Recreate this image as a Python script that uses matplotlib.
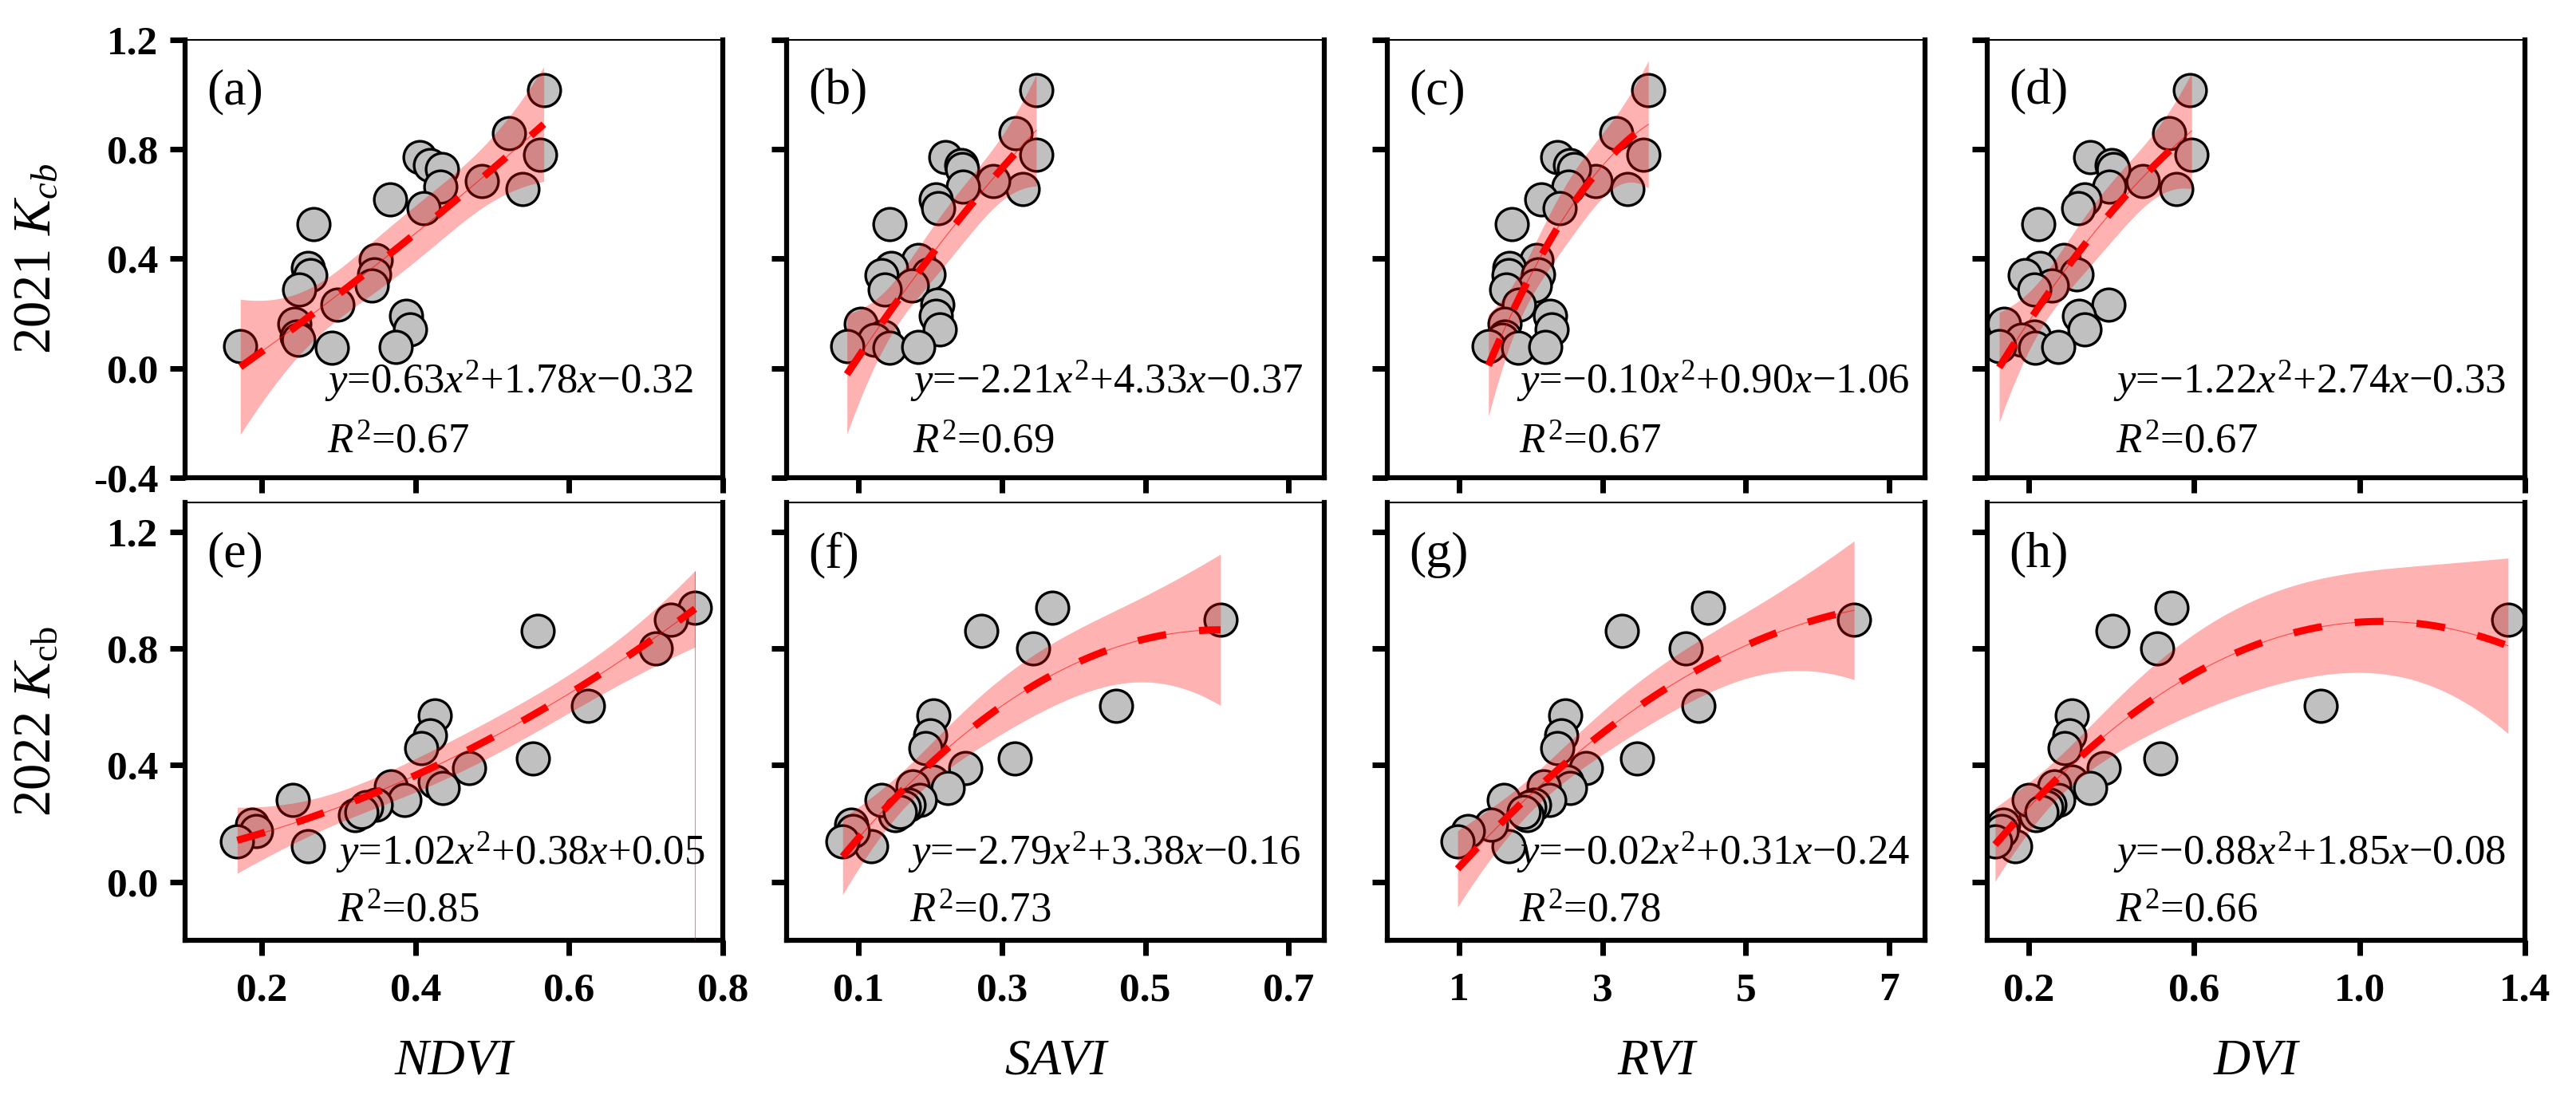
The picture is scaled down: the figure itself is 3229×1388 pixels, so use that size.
import numpy as np
import matplotlib.pyplot as plt

plt.rcParams['font.family'] = ['Liberation Serif', 'DejaVu Serif']
plt.rcParams['mathtext.fontset'] = 'custom'
plt.rcParams['mathtext.rm'] = 'Liberation Serif'
plt.rcParams['mathtext.it'] = 'Liberation Serif:italic'
plt.rcParams['mathtext.bf'] = 'Liberation Serif:bold'
plt.rcParams['axes.unicode_minus'] = False

# ---- 2021 season (same sample order in every list) ----
kcb_2021 = [1.017, 0.858, 0.780, 0.656, 0.685, 0.771, 0.741, 0.728, 0.663, 0.617,
            0.585, 0.526, 0.396, 0.367, 0.341, 0.344, 0.302, 0.289, 0.233, 0.191,
            0.142, 0.162, 0.117, 0.103, 0.081, 0.075, 0.077]
ndvi_2021 = [0.567, 0.522, 0.562, 0.539, 0.486, 0.405, 0.419, 0.434, 0.432, 0.367,
             0.411, 0.267, 0.348, 0.260, 0.263, 0.346, 0.343, 0.249, 0.298, 0.388,
             0.393, 0.242, 0.245, 0.248, 0.172, 0.291, 0.374]
savi_2021 = [0.348, 0.319, 0.348, 0.329, 0.288, 0.221, 0.243, 0.245, 0.246, 0.208,
             0.211, 0.143, 0.183, 0.146, 0.132, 0.198, 0.175, 0.137, 0.210, 0.208,
             0.214, 0.103, 0.135, 0.122, 0.084, 0.143, 0.183]
rvi_2021 = [3.64, 3.19, 3.57, 3.35, 2.90, 2.375, 2.55, 2.60, 2.52, 2.15,
            2.40, 1.74, 2.08, 1.70, 1.69, 2.10, 2.06, 1.66, 1.84, 2.27,
            2.29, 1.64, 1.63, 1.60, 1.41, 1.82, 2.20]
dvi_2021 = [0.590, 0.539, 0.594, 0.558, 0.477, 0.348, 0.400, 0.405, 0.395, 0.336,
            0.319, 0.223, 0.285, 0.227, 0.191, 0.316, 0.257, 0.213, 0.393, 0.321,
            0.336, 0.141, 0.213, 0.183, 0.129, 0.215, 0.272]

# ---- 2022 season ----
kcb_2022 = [0.939, 0.898, 0.859, 0.801, 0.603, 0.422, 0.390, 0.571, 0.503, 0.459,
            0.345, 0.322, 0.326, 0.280, 0.265, 0.255, 0.229, 0.280, 0.123, 0.196,
            0.174, 0.138, 0.240]
ndvi_2022 = [0.764, 0.732, 0.559, 0.713, 0.624, 0.553, 0.470, 0.425, 0.419, 0.407,
             0.425, 0.436, 0.368, 0.386, 0.348, 0.336, 0.321, 0.240, 0.260, 0.187,
             0.192, 0.168, 0.330]
savi_2022 = [0.370, 0.605, 0.271, 0.344, 0.459, 0.318, 0.249, 0.205, 0.200, 0.194,
             0.203, 0.225, 0.176, 0.186, 0.170, 0.163, 0.151, 0.132, 0.118, 0.090,
             0.092, 0.078, 0.158]
rvi_2022 = [4.47, 6.51, 3.27, 4.16, 4.34, 3.48, 2.77, 2.48, 2.43, 2.375,
            2.50, 2.55, 2.18, 2.26, 2.05, 1.98, 1.95, 1.625, 1.69, 1.45,
            1.125, 0.98, 1.90]
dvi_2022 = [0.546, 1.359, 0.403, 0.510, 0.907, 0.518, 0.382, 0.304, 0.299, 0.287,
            0.304, 0.348, 0.262, 0.272, 0.250, 0.242, 0.218, 0.200, 0.168, 0.139,
            0.134, 0.119, 0.232]

# fitted quadratic coefficients (a, b, c) and R2 printed on each panel
coef_2021 = [(0.63, 1.78, -0.32), (-2.21, 4.33, -0.37), (-0.10, 0.90, -1.06), (-1.22, 2.74, -0.33)]
coef_2022 = [(1.02, 0.38, 0.05), (-2.79, 3.38, -0.16), (-0.02, 0.31, -0.24), (-0.88, 1.85, -0.08)]
r2_2021 = [0.67, 0.69, 0.67, 0.67]
r2_2022 = [0.85, 0.73, 0.78, 0.66]

index_names = ['NDVI', 'SAVI', 'RVI', 'DVI']
xlims = [(0.1, 0.8), (0.0, 0.75), (0.0, 7.5), (0.1, 1.4)]
xticks = [[0.2, 0.4, 0.6, 0.8], [0.1, 0.3, 0.5, 0.7], [1, 3, 5, 7], [0.2, 0.6, 1.0, 1.4]]
xtick_fmt = ['{:.1f}', '{:.1f}', '{:.0f}', '{:.1f}']
letters = ['abcd', 'efgh']

rows = [
    dict(y=kcb_2021, xs=[ndvi_2021, savi_2021, rvi_2021, dvi_2021], coef=coef_2021, r2=r2_2021,
         ylim=(-0.4, 1.2), yticks=[-0.4, 0.0, 0.4, 0.8, 1.2], ylabel='2021 $K_{cb}$',
         eq_x=[0.26, 0.23, 0.24, 0.235], eq_y=0.22, r2_y=0.08),
    dict(y=kcb_2022, xs=[ndvi_2022, savi_2022, rvi_2022, dvi_2022], coef=coef_2022, r2=r2_2022,
         ylim=(-0.2, 1.3), yticks=[0.0, 0.4, 0.8, 1.2], ylabel='2022 $K_{\\mathrm{cb}}$',
         eq_x=[0.28, 0.225, 0.24, 0.235], eq_y=0.20, r2_y=0.065),
]

lefts = [0.0718, 0.3053, 0.5384, 0.7712]
bottoms = [0.5685, 0.1506]
width, height = 0.2087, 0.3955


def num(v):
    return '{:.2f}'.format(abs(v))


def equation(a, b, c):
    s = '$y$=' + ('−' if a < 0 else '') + num(a) + '$x^2$'
    s += ('−' if b < 0 else '+') + num(b) + '$x$'
    s += ('−' if c < 0 else '+') + num(c)
    return s


def band(x, y, coef, grid):
    x = np.asarray(x)
    y = np.asarray(y)
    X = np.column_stack([x ** 2, x, np.ones_like(x)])
    resid = y - X @ np.array(coef)
    s2 = np.sum(resid ** 2) / (len(x) - 3)
    cov = s2 * np.linalg.inv(X.T @ X)
    G = np.column_stack([grid ** 2, grid, np.ones_like(grid)])
    se = np.sqrt(np.einsum('ij,jk,ik->i', G, cov, G))
    fit = G @ np.array(coef)
    return fit, fit - 2.07 * se, fit + 2.07 * se


fig = plt.figure(figsize=(32.3, 13.88), dpi=100)

for r, row in enumerate(rows):
    for c in range(4):
        ax = fig.add_axes([lefts[c], bottoms[r], width, height])
        x = row['xs'][c]
        y = row['y']
        coef = row['coef'][c]

        ax.scatter(x, y, s=860, facecolor='#c0c0c0', edgecolor='black', linewidth=2.4, zorder=2)

        grid = np.linspace(min(x), max(x), 200)
        fit, lo, hi = band(x, y, coef, grid)
        ax.fill_between(grid, lo, hi, color='red', alpha=0.3, linewidth=0, zorder=3)
        ax.plot(grid, fit, color='red', lw=0.8, alpha=0.6, zorder=3)
        ax.plot(grid, fit, color='red', lw=6.5, dashes=(4, 4.6), zorder=4)
        if r == 1 and c == 0:
            ax.vlines(grid[-1], row['ylim'][0], hi[-1], color='red', lw=0.8, alpha=0.5, zorder=3)

        ax.set_xlim(xlims[c])
        ax.set_ylim(row['ylim'])
        ax.set_xticks(xticks[c])
        ax.set_yticks(row['yticks'])
        if r == 1:
            ax.set_xticklabels([xtick_fmt[c].format(t) for t in xticks[c]])
            ax.set_xlabel(index_names[c], fontsize=46, style='italic')
            ax.xaxis.set_label_coords(0.5, -0.225)
        else:
            ax.set_xticklabels([])
        if c == 0:
            ax.set_yticklabels(['{:.1f}'.format(t) for t in row['yticks']])
            ax.set_ylabel(row['ylabel'], fontsize=48)
            ax.yaxis.set_label_coords(-0.23, 0.5)
        else:
            ax.set_yticklabels([])

        ax.tick_params(axis='both', direction='out', length=14, width=5, labelsize=37)
        ax.tick_params(axis='x', pad=15)
        ax.tick_params(axis='y', pad=10)
        for lab in ax.get_xticklabels() + ax.get_yticklabels():
            lab.set_fontweight('bold')
        for side in ['left', 'bottom', 'right']:
            ax.spines[side].set_linewidth(4.5)
        ax.spines['top'].set_linewidth(1.5)

        ax.text(0.04, 0.88, '(' + letters[r][c] + ')', transform=ax.transAxes,
                fontsize=46, ha='left', va='center')
        ax.text(row['eq_x'][c], row['eq_y'], equation(*coef), transform=ax.transAxes,
                fontsize=38, ha='left', va='center', zorder=5)
        ax.text(row['eq_x'][c] + 0.004, row['r2_y'], '$R^2$={:.2f}'.format(row['r2'][c]),
                transform=ax.transAxes, fontsize=38, ha='left', va='center', zorder=5)

fig.savefig('out.png', dpi=100)
